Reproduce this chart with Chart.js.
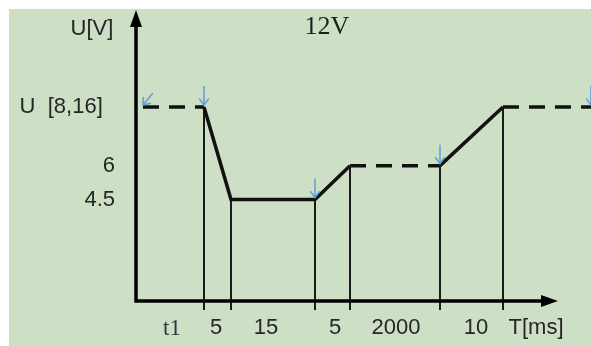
<!DOCTYPE html>
<html>
<head>
<meta charset="utf-8">
<script src="https://cdn.jsdelivr.net/npm/chart.js@4/dist/chart.umd.min.js"></script>
<style>
  html, body { margin: 0; padding: 0; background: #fff; }
</style>
</head>
<body>
<canvas id="chart" width="591" height="346"></canvas>
<script>
// the drawing is not to scale along T, so times are in drawing units read off the picture
const profileT = [0.7, 6.8, 9.5, 17.9, 21.4, 30.4, 36.7, 45.5];
const profileU = [8.6, 8.6, 4.5, 4.5, 6, 6, 8.6, 8.6];
const dashedSegs = [0, 4, 6];
const dropIdx = [1, 2, 3, 4, 5, 6];
const markerIdx = [0, 1, 3, 5, 7];

const yTicks = [4.5, 6, 8.6];
const yTickLabels = ['4.5', '6', 'U  [8,16]  '];
const xTickAt = [3.6, 8.0, 13.0, 19.9, 26.0, 34.0, 40.0];
const xTickLabels = ['t1', '5', '15', '5', '2000', '10', 'T[ms]'];

const tMax = 45.5;
const tAxisEnd = 42.2;
const uMax = 12.9;
const uTickBottom = -0.4;

const SANS = '"Liberation Sans", Arial, sans-serif';
const SERIF = '"Liberation Serif", "Times New Roman", serif';
const INK = '#262626';

const profile = {
  data: profileT.map((t, i) => ({ x: t, y: profileU[i] })),
  borderColor: '#111',
  borderWidth: 3.5,
  pointRadius: 0,
  tension: 0,
  clip: false,
  segment: {
    borderDash: c => dashedSegs.includes(c.p0DataIndex) ? [16, 10] : undefined
  }
};

const drops = dropIdx.map(i => ({
  data: [{ x: profileT[i], y: profileU[i] }, { x: profileT[i], y: uTickBottom }],
  borderColor: '#1a1a1a',
  borderWidth: 2,
  pointRadius: 0,
  clip: false
}));

const background = {
  id: 'background',
  beforeDraw(chart) {
    const c = chart.ctx;
    c.save();
    c.fillStyle = '#fff';
    c.fillRect(0, 0, chart.width, chart.height);
    c.fillStyle = '#cddfc4';
    c.fillRect(9, 9, chart.width - 9, chart.height - 9);
    c.restore();
  }
};

const axes = {
  id: 'axes',
  afterDatasetsDraw(chart) {
    const c = chart.ctx;
    const x = chart.scales.x, y = chart.scales.y;
    const x0 = x.getPixelForValue(0), y0 = y.getPixelForValue(0);
    const yTop = y.getPixelForValue(uMax);
    const xEnd = x.getPixelForValue(tAxisEnd);
    c.save();
    c.strokeStyle = '#000';
    c.fillStyle = '#000';
    c.lineWidth = 3.5;
    c.beginPath();
    c.moveTo(x0, y0 + 1.5);
    c.lineTo(x0, yTop + 12);
    c.moveTo(x0 - 1.5, y0);
    c.lineTo(xEnd - 12, y0);
    c.stroke();
    c.beginPath();
    c.moveTo(x0, yTop);
    c.lineTo(x0 - 6, yTop + 17);
    c.lineTo(x0 + 6, yTop + 17);
    c.closePath();
    c.fill();
    c.beginPath();
    c.moveTo(xEnd, y0);
    c.lineTo(xEnd - 17, y0 - 6);
    c.lineTo(xEnd - 17, y0 + 6);
    c.closePath();
    c.fill();

    // blue event arrows
    c.strokeStyle = '#5f9fd8';
    c.lineWidth = 1.5;
    markerIdx.forEach((i, k) => {
      const px = x.getPixelForValue(profileT[i]);
      const py = y.getPixelForValue(profileU[i]) - 2;
      const dx = k === 0 ? 10 : 0, dy = k === 0 ? -12 : -19;
      const len = Math.hypot(dx, dy), ux = dx / len, uy = dy / len;
      c.beginPath();
      c.moveTo(px + dx, py + dy);
      c.lineTo(px, py);
      const hx = ux * 8, hy = uy * 8;
      c.moveTo(px + hx * 0.8 - hy * 0.6, py + hy * 0.8 + hx * 0.6);
      c.lineTo(px, py);
      c.lineTo(px + hx * 0.8 + hy * 0.6, py + hy * 0.8 - hx * 0.6);
      c.stroke();
    });

    c.fillStyle = INK;
    c.textAlign = 'center';
    c.textBaseline = 'middle';
    c.font = '22px ' + SANS;
    c.fillText('U[V]', 92, 29);
    c.fillStyle = '#1e1e1e';
    c.font = '26px ' + SERIF;
    c.fillText('12V', 327, 27);
    c.restore();
  }
};

new Chart(document.getElementById('chart'), {
  type: 'line',
  data: { datasets: [profile, ...drops] },
  options: {
    responsive: false,
    animation: false,
    devicePixelRatio: 1,
    layout: { padding: { top: 10, left: 0, right: 0, bottom: 0 } },
    plugins: { legend: { display: false }, tooltip: { enabled: false } },
    scales: {
      x: {
        type: 'linear',
        min: 0,
        max: tMax,
        grid: { display: false },
        border: { display: false },
        afterBuildTicks: s => { s.ticks = xTickAt.map(v => ({ value: v })); },
        afterFit: s => { s.height = 45; s.paddingLeft = 0; s.paddingRight = 0; },
        ticks: {
          autoSkip: false,
          maxRotation: 0,
          padding: 6,
          color: c => xTickLabels[c.index] === 't1' ? '#2c3846' : INK,
          font: c => xTickLabels[c.index] === 't1'
            ? { family: SERIF, size: 23 }
            : { family: SANS, size: 22 },
          callback: (v, i) => xTickLabels[i]
        }
      },
      y: {
        min: 0,
        max: uMax,
        grid: { display: false },
        border: { display: false },
        afterBuildTicks: s => { s.ticks = yTicks.map(v => ({ value: v })); },
        afterFit: s => { s.width = 136; s.paddingTop = 0; s.paddingBottom = 0; },
        ticks: {
          autoSkip: false,
          padding: 13,
          color: INK,
          font: { family: SANS, size: 22 },
          callback: (v, i) => yTickLabels[i]
        }
      }
    }
  },
  plugins: [background, axes]
});
</script>
</body>
</html>
